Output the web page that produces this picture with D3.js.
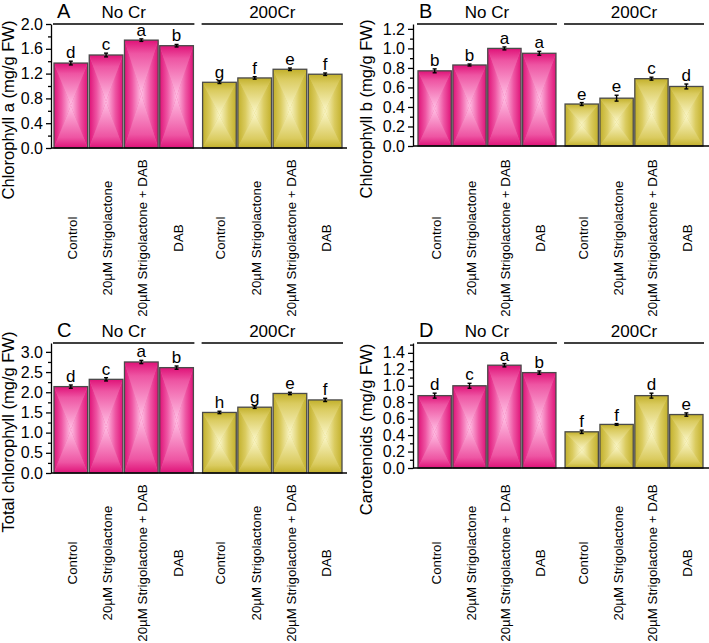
<!DOCTYPE html>
<html><head><meta charset="utf-8">
<script src="https://cdn.jsdelivr.net/npm/d3@7"></script>
<style>body{margin:0;background:#fff} svg{display:block}</style>
</head><body>
<svg id="c" width="709" height="643"></svg>
<script>
// ---------------- data ----------------
const groups = ["No Cr", "200Cr"];
const treatments = ["Control", "20µM Strigolactone", "20µM Strigolactone + DAB", "DAB"];

const chlA_noCr = [1.37, 1.50, 1.74, 1.65];
const chlA_cr   = [1.06, 1.13, 1.27, 1.19];
const chlA_err_noCr = [0.03, 0.03, 0.02, 0.02];
const chlA_err_cr   = [0.02, 0.02, 0.02, 0.02];
const chlA_letters = [["d","c","a","b"], ["g","f","e","f"]];
const chlA_ticks = [0, 0.4, 0.8, 1.2, 1.6, 2.0];

const chlB_noCr = [0.77, 0.83, 1.00, 0.95];
const chlB_cr   = [0.43, 0.49, 0.69, 0.61];
const chlB_err_noCr = [0.02, 0.01, 0.015, 0.02];
const chlB_err_cr   = [0.015, 0.03, 0.015, 0.025];
const chlB_letters = [["b","b","a","a"], ["e","e","c","d"]];
const chlB_ticks = [0, 0.2, 0.4, 0.6, 0.8, 1.0, 1.2];

const tot_noCr = [2.14, 2.32, 2.75, 2.61];
const tot_cr   = [1.50, 1.63, 1.97, 1.81];
const tot_err_noCr = [0.04, 0.04, 0.04, 0.04];
const tot_err_cr   = [0.03, 0.03, 0.03, 0.04];
const tot_letters = [["d","c","a","b"], ["h","g","e","f"]];
const tot_ticks = [0, 0.5, 1.0, 1.5, 2.0, 2.5, 3.0];

const car_noCr = [0.88, 1.00, 1.25, 1.16];
const car_cr   = [0.44, 0.53, 0.88, 0.65];
const car_err_noCr = [0.03, 0.03, 0.02, 0.02];
const car_err_cr   = [0.02, 0.01, 0.03, 0.02];
const car_letters = [["d","c","a","b"], ["f","f","d","e"]];
const car_ticks = [0, 0.2, 0.4, 0.6, 0.8, 1.0, 1.2, 1.4];

const panelLetters = ["A", "B", "C", "D"];
const yTitles = ["Chlorophyll a (mg/g FW)", "Chlorophyll b (mg/g FW)", "Total chlorophyll (mg/g FW)", "Carotenoids (mg/g FW)"];

// ---------------- layout ----------------
const layout = [
  {axisX: 51,  x0: 54,  x1: 342, xEnd: 347, top: 24,  bottom: 148, ymax: 2.0,  titleX: 14,  labelY: 238},
  {axisX: 413, x0: 418, x1: 703, xEnd: 709, top: 24,  bottom: 146, ymax: 1.25, titleX: 372, labelY: 238},
  {axisX: 51,  x0: 54,  x1: 342, xEnd: 347, top: 343, bottom: 473, ymax: 3.22, titleX: 14,  labelY: 563},
  {axisX: 413, x0: 418, x1: 703, xEnd: 709, top: 343, bottom: 468, ymax: 1.52, titleX: 372, labelY: 563}
];
const panels = [
  {vals: [chlA_noCr, chlA_cr], errs: [chlA_err_noCr, chlA_err_cr], letters: chlA_letters, ticks: chlA_ticks},
  {vals: [chlB_noCr, chlB_cr], errs: [chlB_err_noCr, chlB_err_cr], letters: chlB_letters, ticks: chlB_ticks},
  {vals: [tot_noCr, tot_cr],   errs: [tot_err_noCr, tot_err_cr],   letters: tot_letters,  ticks: tot_ticks},
  {vals: [car_noCr, car_cr],   errs: [car_err_noCr, car_err_cr],   letters: car_letters,  ticks: car_ticks}
];

const FONT = "'Liberation Sans', Arial, Helvetica, sans-serif";
const schemes = [
  {id: "pk", edge: "#df1278", mid: "#ee55a3", center: "#ffc0e4"},
  {id: "yl", edge: "#c2b02b", mid: "#dacb5f", center: "#faf6c8"}
];

const svg = d3.select("#c");
const defs = svg.append("defs");
schemes.forEach(s => {
  const dirs = {
    L: {x1: 0, y1: 0, x2: 1, y2: 0},
    R: {x1: 1, y1: 0, x2: 0, y2: 0},
    T: {x1: 0, y1: 0, x2: 0, y2: 1},
    B: {x1: 0, y1: 1, x2: 0, y2: 0}
  };
  Object.entries(dirs).forEach(([k, d]) => {
    const g = defs.append("linearGradient").attr("id", s.id + k)
      .attr("x1", d.x1).attr("y1", d.y1).attr("x2", d.x2).attr("y2", d.y2);
    const stops = (k === "T" || k === "B")
      ? [[0, s.edge], [0.25, s.mid], [1, s.center]]
      : [[0, s.edge], [0.45, s.mid], [1, s.center]];
    stops.forEach(([o, c]) => g.append("stop").attr("offset", o).attr("stop-color", c));
  });
});

panels.forEach((p, pi) => {
  const L = layout[pi];
  const g = svg.append("g");
  const y = d3.scaleLinear().domain([0, L.ymax]).range([L.bottom, L.top]);
  const xg = d3.scaleBand().domain(groups).range([L.x0, L.x1]).paddingInner(0.062).paddingOuter(0);
  const xt = d3.scaleBand().domain(treatments).range([0, xg.bandwidth()]).paddingInner(0.045).paddingOuter(0);

  // bars
  groups.forEach((grp, gi) => {
    const s = schemes[gi];
    treatments.forEach((t, ti) => {
      const v = p.vals[gi][ti], e = p.errs[gi][ti];
      const bx = xg(grp) + xt(t), bw = xt.bandwidth();
      const by = y(v), bb = y(0);
      const cx = bx + bw / 2, cy = (by + bb) / 2;
      const bg = g.append("g");
      bg.append("rect").attr("x", bx).attr("y", by).attr("width", bw).attr("height", bb - by).attr("fill", s.mid);
      bg.append("path").attr("d", `M${bx},${by}L${cx},${cy}L${bx},${bb}Z`).attr("fill", `url(#${s.id}L)`);
      bg.append("path").attr("d", `M${bx + bw},${by}L${cx},${cy}L${bx + bw},${bb}Z`).attr("fill", `url(#${s.id}R)`);
      bg.append("path").attr("d", `M${bx},${by}L${cx},${cy}L${bx + bw},${by}Z`).attr("fill", `url(#${s.id}T)`);
      bg.append("path").attr("d", `M${bx},${bb}L${cx},${cy}L${bx + bw},${bb}Z`).attr("fill", `url(#${s.id}B)`);
      bg.append("rect").attr("x", bx).attr("y", by).attr("width", bw).attr("height", bb - by)
        .attr("fill", "none").attr("stroke", "#4a4a4a").attr("stroke-width", 1.3);
      // error bar
      const eb = g.append("g").attr("stroke", "#000").attr("stroke-width", 1.4);
      eb.append("line").attr("x1", cx).attr("x2", cx).attr("y1", y(v - e)).attr("y2", y(v + e));
      eb.append("line").attr("x1", cx - 2).attr("x2", cx + 2).attr("y1", y(v - e)).attr("y2", y(v - e));
      eb.append("line").attr("x1", cx - 2).attr("x2", cx + 2).attr("y1", y(v + e)).attr("y2", y(v + e));
      // letter
      g.append("text").attr("x", cx).attr("y", y(v + e) - 3).attr("text-anchor", "middle")
        .attr("font-family", FONT).attr("font-size", 17).attr("fill", "#000").text(p.letters[gi][ti]);
      // x label
      g.append("text").attr("transform", `translate(${cx + 1.5},${L.labelY}) rotate(-90)`)
        .attr("text-anchor", "middle").attr("dominant-baseline", "central")
        .attr("font-family", FONT).attr("font-size", 13.3).attr("fill", "#000").text(t);
    });
    // group header
    g.append("line").attr("x1", xg(grp) - 1).attr("x2", xg(grp) + xg.bandwidth() + 1)
      .attr("y1", L.top).attr("y2", L.top).attr("stroke", "#000").attr("stroke-width", 1.4);
    g.append("text").attr("x", xg(grp) + xg.bandwidth() / 2).attr("y", L.top - 6.5)
      .attr("text-anchor", "middle").attr("font-family", FONT).attr("font-size", 17).text(grp);
  });

  // y axis
  const yAxis = d3.axisLeft(y).tickValues(p.ticks).tickFormat(d3.format(".1f")).tickSize(5).tickSizeOuter(0).tickPadding(3);
  const ax = g.append("g").attr("transform", `translate(${L.axisX},0)`).call(yAxis);
  const step = p.ticks[1] - p.ticks[0];
  const minor = [];
  for (let i = 0; i < p.ticks.length; i++) {
    const m = p.ticks[i] + step / 2;
    if (m <= L.ymax) minor.push(m);
  }
  const mAxis = d3.axisLeft(y).tickValues(minor).tickFormat("").tickSize(3).tickSizeOuter(0);
  const max2 = g.append("g").attr("transform", `translate(${L.axisX},0)`).call(mAxis);
  max2.select(".domain").remove();
  [ax, max2].forEach(a => {
    a.selectAll("path,line").attr("stroke", "#000").attr("stroke-width", 1.3);
  });
  ax.selectAll("text").attr("font-family", FONT).attr("font-size", 16).attr("fill", "#000");

  // x axis line
  g.append("line").attr("x1", L.axisX).attr("x2", L.xEnd).attr("y1", L.bottom).attr("y2", L.bottom)
    .attr("stroke", "#000").attr("stroke-width", 1.4);

  // y title
  g.append("text").attr("transform", `translate(${L.titleX},${(L.top + L.bottom) / 2 + 24}) rotate(-90)`)
    .attr("text-anchor", "middle").attr("font-family", FONT).attr("font-size", 16.5).text(yTitles[pi]);

  // panel letter
  g.append("text").attr("x", L.axisX + 6).attr("y", L.top - 6.5).attr("font-family", FONT)
    .attr("font-size", 20).text(panelLetters[pi]);
});
</script>
</body></html>
